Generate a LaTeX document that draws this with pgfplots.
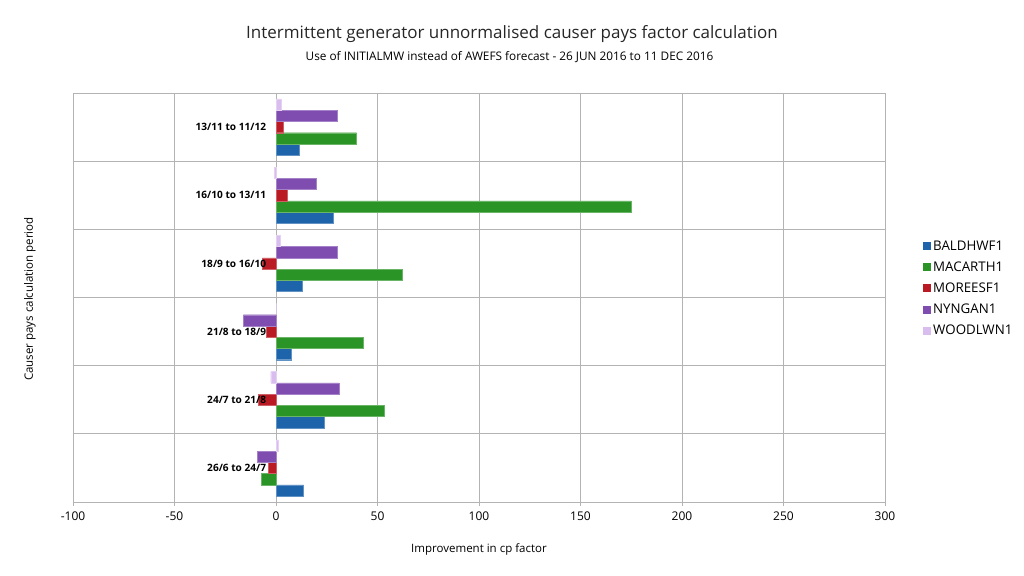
\documentclass[border=0pt]{standalone}
\usepackage{fontspec}
\setmainfont{Open Sans}
\usepackage{pgfplots}
\pgfplotsset{compat=1.18}
\definecolor{cBald}{HTML}{1E64AA}
\definecolor{cMac}{HTML}{2A9426}
\definecolor{cMor}{HTML}{BA1A24}
\definecolor{cNyn}{HTML}{7F4CAF}
\definecolor{cWoo}{HTML}{DABDEF}
\definecolor{gridc}{HTML}{B3B3B3}
\begin{document}
\begin{tikzpicture}
\path[use as bounding box] (-73pt,-73pt) rectangle (951pt,502pt);
\begin{axis}[
  at={(0pt,0pt)}, anchor=south west,
  scale only axis, width=812pt, height=409pt,
  xbar, bar width=0.165,
  xmin=-100, xmax=300, ymin=-0.5, ymax=5.5,
  xtick={-100,-50,...,300},
  xmajorgrids,
  grid style={draw=gridc, line width=0.8pt},
  axis line style={draw=gridc, line width=0.9pt},
  xtick pos=bottom, xtick align=outside,
  major tick length=4pt,
  x tick style={draw=gridc, line width=0.8pt},
  /pgf/number format/assume math mode=true,
  x tick label style={font=\fontsize{12}{14}\selectfont, yshift=-2pt},
  ytick={-0.5,0.5,1.5,2.5,3.5,4.5,5.5},
  yticklabels={},
  ymajorgrids,
  y tick style={draw=none},
  legend image code/.code={\fill[#1, draw=none] (0pt,-4pt) rectangle (8pt,4pt);},
  legend style={at={(1.0468,0.522)}, anchor=west, draw=none, fill=none,
    font=\fontsize{13.3}{15}\selectfont, row sep=6pt, inner sep=0pt},
  legend cell align=left,
]
\addplot[fill=cBald, draw=cBald!70!white, line width=0.4pt, bar shift=-0.33] coordinates {
 (13.6,0) (23.9,1) (7.4,2) (12.8,3) (28,4) (11.6,5)};
\addlegendentry{BALDHWF1}
\addplot[fill=cMac, draw=cMac!70!white, line width=0.4pt, bar shift=-0.165] coordinates {
 (-7.2,0) (53.4,1) (43.1,2) (62.3,3) (175.1,4) (39.7,5)};
\addlegendentry{MACARTH1}
\addplot[fill=cMor, draw=cMor!70!white, line width=0.4pt, bar shift=0] coordinates {
 (-3.9,0) (-8.7,1) (-4.8,2) (-6.7,3) (5.7,4) (3.7,5)};
\addlegendentry{MOREESF1}
\addplot[fill=cNyn, draw=cNyn!70!white, line width=0.4pt, bar shift=0.165] coordinates {
 (-9.3,0) (31,1) (-16.1,2) (30.2,3) (20,4) (30.2,5)};
\addlegendentry{NYNGAN1}
\addplot[fill=cWoo, draw=cWoo!70!white, line width=0.4pt, bar shift=0.33] coordinates {
 (1.3,0) (-2.6,1) (0,2) (2,3) (-0.7,4) (2.5,5)};
\addlegendentry{WOODLWN1}
\begin{scope}[every node/.style={anchor=east, inner sep=0pt, font=\fontsize{10.1}{12}\selectfont\bfseries}]
\node at (axis cs:-4.8,0) {26/6 to 24/7};
\node at (axis cs:-4.8,1) {24/7 to 21/8};
\node at (axis cs:-4.8,2) {21/8 to 18/9};
\node at (axis cs:-4.8,3) {18/9 to 16/10};
\node at (axis cs:-4.8,4) {16/10 to 13/11};
\node at (axis cs:-4.8,5) {13/11 to 11/12};
\end{scope}
\end{axis}
\node[font=\fontsize{17}{20}\selectfont, text=black!85] at (439pt,468pt) {Intermittent generator unnormalised causer pays factor calculation};
\node[font=\fontsize{11.8}{14}\selectfont] at (436.5pt,445pt) {Use of INITIALMW instead of AWEFS forecast - 26 JUN 2016 to 11 DEC 2016};
\node[font=\fontsize{11.5}{13}\selectfont] at (406pt,-47pt) {Improvement in cp factor};
\node[font=\fontsize{11.5}{13}\selectfont, rotate=90] at (-43pt,203pt) {Causer pays calculation period};
\end{tikzpicture}
\end{document}
